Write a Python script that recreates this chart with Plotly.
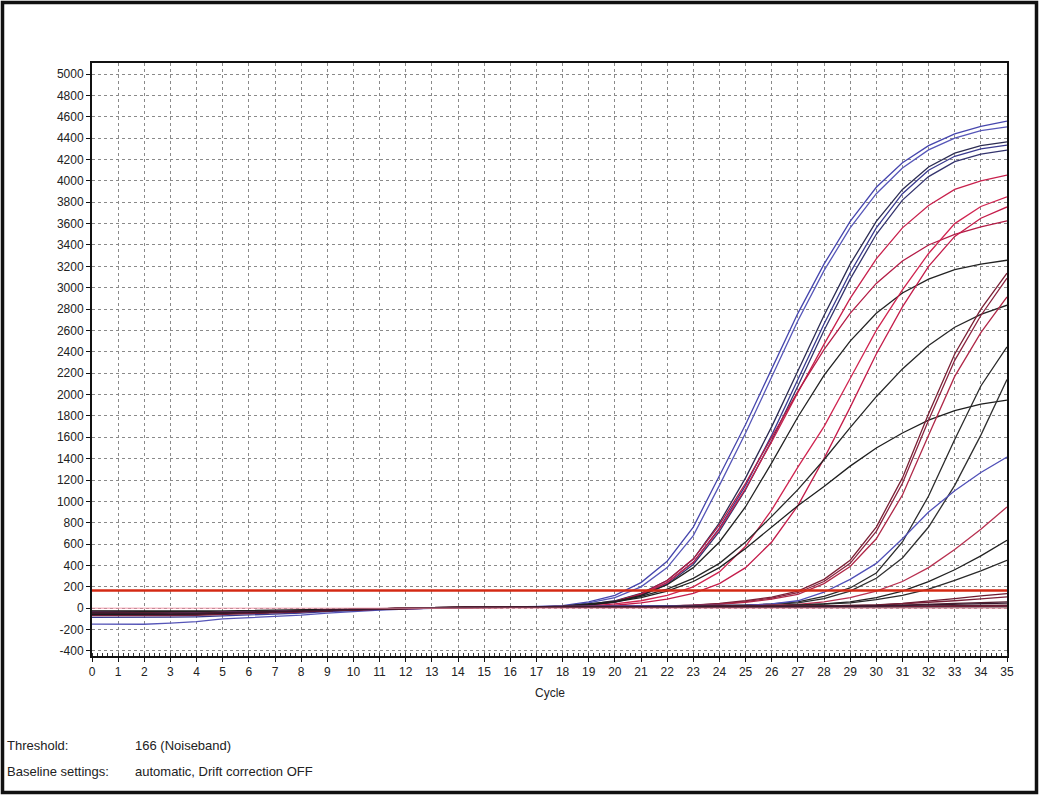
import plotly.graph_objects as go

cycles = list(range(0, 36))
threshold = 166
x_ticks = list(range(0, 36))
y_ticks = list(range(-400, 5001, 200))

A1 = [-40,-42,-44,-45,-44,-40,-35,-30,-25,-18,-10,-5,0,5,8,10,12,14, 25,60,120,240,440,760,1240,1720,2240,2760,3220,3620,3940,4170,4330,4440,4510,4560]
A2 = [-148,-150,-150,-140,-125,-100,-90,-78,-65,-45,-30,-18,-8,0,5,8,10,12, 20,50,100,200,380,680,1150,1640,2160,2690,3160,3560,3880,4120,4290,4400,4470,4505]
B1 = [-60,-62,-62,-60,-56,-50,-44,-38,-30,-20,-12,-5,0,4,6,8,10,12, 15,35,70,140,260,460,800,1220,1700,2220,2740,3220,3620,3920,4130,4260,4330,4365]
B2 = [-85,-86,-86,-84,-80,-72,-64,-55,-45,-32,-20,-10,-3,3,6,8,10,12, 15,30,60,125,240,430,750,1150,1620,2140,2660,3140,3560,3880,4100,4230,4300,4334]
B3 = [-50,-55,-58,-60,-58,-52,-46,-40,-32,-22,-12,-5,0,5,8,10,12,13, 12,28,55,115,225,410,720,1110,1570,2080,2600,3080,3500,3820,4040,4180,4250,4287]
C1 = [-60,-62,-62,-60,-56,-50,-44,-38,-30,-20,-12,-5,0,4,6,8,10,12, 12,28,60,125,240,430,740,1120,1560,2020,2470,2900,3270,3560,3770,3920,4000,4053]
C4 = [-40,-42,-44,-45,-44,-40,-35,-30,-25,-18,-10,-5,0,5,8,10,12,14, 15,32,65,135,260,460,780,1170,1600,2030,2420,2760,3040,3250,3400,3500,3570,3625]
D1 = [-50,-55,-58,-60,-58,-52,-46,-40,-32,-22,-12,-5,0,5,8,10,12,13, 15,30,60,120,220,380,620,950,1360,1790,2180,2500,2760,2950,3080,3170,3220,3257]
R1 = [-30,-32,-34,-36,-36,-34,-30,-25,-20,-13,-6,0,4,6,8,10,11,12, 12,20,40,70,120,200,340,580,920,1320,1700,2150,2600,2980,3320,3600,3760,3850]
R2 = [-60,-62,-62,-60,-56,-50,-44,-38,-30,-20,-12,-5,0,4,6,8,10,12, 10,15,28,50,85,140,230,380,620,960,1400,1880,2380,2820,3200,3480,3650,3756]
D2 = [-30,-32,-34,-36,-36,-34,-30,-25,-20,-13,-6,0,4,6,8,10,11,12, 20,40,65,110,180,280,420,620,860,1110,1390,1690,1980,2240,2460,2630,2750,2836]
D3 = [-25,-27,-28,-28,-26,-24,-20,-16,-12,-8,-4,0,3,6,8,10,11,12, 18,35,60,100,160,250,380,560,760,960,1140,1330,1500,1640,1760,1850,1910,1947]
E1 = [-50,-55,-58,-60,-58,-52,-46,-40,-32,-22,-12,-5,0,5,8,10,12,13, 14,15,16,18,22,30,45,70,105,160,270,450,760,1220,1820,2380,2800,3136]
E2 = [-60,-62,-62,-60,-56,-50,-44,-38,-30,-20,-12,-5,0,4,6,8,10,12, 12,13,14,16,20,28,40,62,95,145,250,420,720,1170,1760,2320,2740,3089]
E3 = [-40,-42,-44,-45,-44,-40,-35,-30,-25,-18,-10,-5,0,5,8,10,12,14, 14,14,15,17,21,27,37,55,85,130,230,390,650,1060,1620,2170,2580,2914]
F1 = [-60,-62,-62,-60,-56,-50,-44,-38,-30,-20,-12,-5,0,4,6,8,10,12, 12,13,14,15,17,20,24,30,40,60,110,190,330,620,1050,1580,2080,2446]
F2 = [-50,-55,-58,-60,-58,-52,-46,-40,-32,-22,-12,-5,0,5,8,10,12,13, 13,13,14,15,16,18,22,28,36,50,90,160,280,470,760,1150,1620,2140]
G1 = [-40,-42,-44,-45,-44,-40,-35,-30,-25,-18,-10,-5,0,5,8,10,12,14, 14,15,15,16,18,20,24,30,40,70,150,270,420,650,900,1100,1270,1416]
G2 = [-60,-62,-62,-60,-56,-50,-44,-38,-30,-20,-12,-5,0,4,6,8,10,12, 12,12,13,14,15,17,20,24,28,35,60,100,160,250,380,550,740,948]
H1 = [-50,-55,-58,-60,-58,-52,-46,-40,-32,-22,-12,-5,0,5,8,10,12,13, 13,13,14,14,15,16,18,20,24,30,40,60,100,160,250,360,490,636]
H2 = [-60,-62,-62,-60,-56,-50,-44,-38,-30,-20,-12,-5,0,4,6,8,10,12, 12,12,12,13,14,15,16,18,22,28,36,50,80,120,180,260,350,449]
I1 = [-50,-55,-58,-60,-58,-52,-46,-40,-32,-22,-12,-5,0,5,8,10,12,13, 13,13,13,14,14,15,16,17,18,20,22,26,32,45,65,90,115,137]
I2 = [-60,-62,-62,-60,-56,-50,-44,-38,-30,-20,-12,-5,0,4,6,8,10,12, 12,12,12,12,13,13,14,15,16,17,19,22,28,40,55,70,88,106]
I3 = [-40,-42,-44,-45,-44,-40,-35,-30,-25,-18,-10,-5,0,5,8,10,12,14, 14,14,14,14,15,15,16,16,17,18,20,22,26,30,35,45,52,59]
I4 = [-50,-55,-58,-60,-58,-52,-46,-40,-32,-22,-12,-5,0,5,8,10,12,13, 13,13,13,13,13,14,14,14,15,15,16,17,18,20,22,24,26,28]
I5 = [-60,-62,-62,-60,-56,-50,-44,-38,-30,-20,-12,-5,0,4,6,8,10,12, 12,12,11,11,11,10,10,10,10,10,10,11,11,11,11,12,12,12]
K1 = [-70,-72,-72,-70,-66,-60,-52,-44,-35,-24,-14,-6,0,4,6,8,10,12, 12,12,12,12,12,12,12,12,12,13,13,13,14,14,15,16,18,20]
K2 = [-45,-48,-50,-52,-50,-46,-40,-34,-27,-19,-10,-4,1,5,8,10,11,12, 12,12,12,12,12,13,13,13,14,15,16,18,21,25,30,36,42,48]

series = [
    ("A1", A1, "#4646ad"), ("A2", A2, "#5656b8"),
    ("B1", B1, "#2c2c52"), ("B2", B2, "#3a3a90"), ("B3", B3, "#34346e"),
    ("C1", C1, "#c8204c"), ("C4", C4, "#b41c46"),
    ("D1", D1, "#222222"),
    ("R1", R1, "#d02450"), ("R2", R2, "#c41c4a"),
    ("D2", D2, "#262626"), ("D3", D3, "#1e1e1e"),
    ("E1", E1, "#7a2035"), ("E2", E2, "#8a2440"), ("E3", E3, "#b02848"),
    ("F1", F1, "#2a2a2a"), ("F2", F2, "#303030"),
    ("G1", G1, "#5050b8"), ("G2", G2, "#b83050"),
    ("H1", H1, "#222222"), ("H2", H2, "#2a2a2a"),
    ("I1", I1, "#6a1a30"), ("I2", I2, "#7a2038"), ("I3", I3, "#552030"),
    ("I4", I4, "#602030"), ("I5", I5, "#1e1e1e"),
    ("K1", K1, "#701c38"), ("K2", K2, "#3a1a30"),
]

fig = go.Figure()
for name, vals, col in series:
    fig.add_trace(go.Scatter(x=cycles, y=vals, mode="lines", name=name,
                             line=dict(color=col, width=1.3), showlegend=False,
                             hoverinfo="skip"))

# noiseband lower line and threshold
fig.add_trace(go.Scatter(x=[0, 35], y=[0, 0], mode="lines", showlegend=False,
                         line=dict(color="rgba(240,140,160,0.6)", width=1.5), hoverinfo="skip"))
fig.add_trace(go.Scatter(x=[0, 35], y=[threshold, threshold], mode="lines", showlegend=False,
                         line=dict(color="#d42a14", width=2.5), hoverinfo="skip"))

ML, MR, MT, MB = 92, 32, 63, 140
W, H = 1039, 796
PW, PH = W - ML - MR, H - MT - MB

def px_to_paper_x(px):
    return (px - ML) / PW

def px_to_paper_y(py):
    return (H - MB - py) / PH

font_family = "Liberation Sans, Arial, sans-serif"

fig.update_layout(
    width=W, height=H,
    margin=dict(l=ML, r=MR, t=MT, b=MB, pad=0),
    paper_bgcolor="white", plot_bgcolor="white",
    font=dict(family=font_family, size=12, color="#222222"),
    xaxis=dict(range=[0, 35], tickmode="array", tickvals=x_ticks,
               ticktext=[str(v) for v in x_ticks],
               showgrid=True, gridcolor="#8a8a8a", griddash="dot", gridwidth=1,
               zeroline=False, showline=True, linecolor="#111111", linewidth=2,
               mirror=True, ticks="outside", ticklen=4, tickcolor="#111111",
               tickfont=dict(size=12, color="#222222"),
               minor=dict(dtick=0.2, ticks="inside", ticklen=3, tickcolor="#333333",
                          showgrid=False)),
    yaxis=dict(range=[-447, 5103], tickmode="array", tickvals=y_ticks,
               ticktext=[str(v) for v in y_ticks],
               showgrid=True, gridcolor="#8a8a8a", griddash="dot", gridwidth=1,
               zeroline=False, showline=True, linecolor="#111111", linewidth=2,
               mirror=True, ticks="outside", ticklen=4, tickcolor="#111111",
               tickfont=dict(size=12, color="#222222")),
)

# outer frame
fig.add_shape(type="rect", xref="paper", yref="paper",
              x0=px_to_paper_x(2.5), x1=px_to_paper_x(1036.5),
              y0=px_to_paper_y(792.5), y1=px_to_paper_y(2.5),
              line=dict(color="#111111", width=3.5), layer="above")

fig.add_annotation(text="Cycle", xref="paper", yref="paper", x=0.5,
                   y=px_to_paper_y(693), showarrow=False,
                   font=dict(size=12, color="#222222"), xanchor="center", yanchor="middle")

labels = [("Threshold:", "166 (Noiseband)", 745),
          ("Baseline settings:", "automatic, Drift correction OFF", 771)]
for lab, val, py in labels:
    fig.add_annotation(text=lab, xref="paper", yref="paper", x=px_to_paper_x(5),
                       y=px_to_paper_y(py), showarrow=False, xanchor="left",
                       yanchor="middle", font=dict(size=13, color="#222222"))
    fig.add_annotation(text=val, xref="paper", yref="paper", x=px_to_paper_x(133),
                       y=px_to_paper_y(py), showarrow=False, xanchor="left",
                       yanchor="middle", font=dict(size=13, color="#222222"))

fig.write_html("out.html")
